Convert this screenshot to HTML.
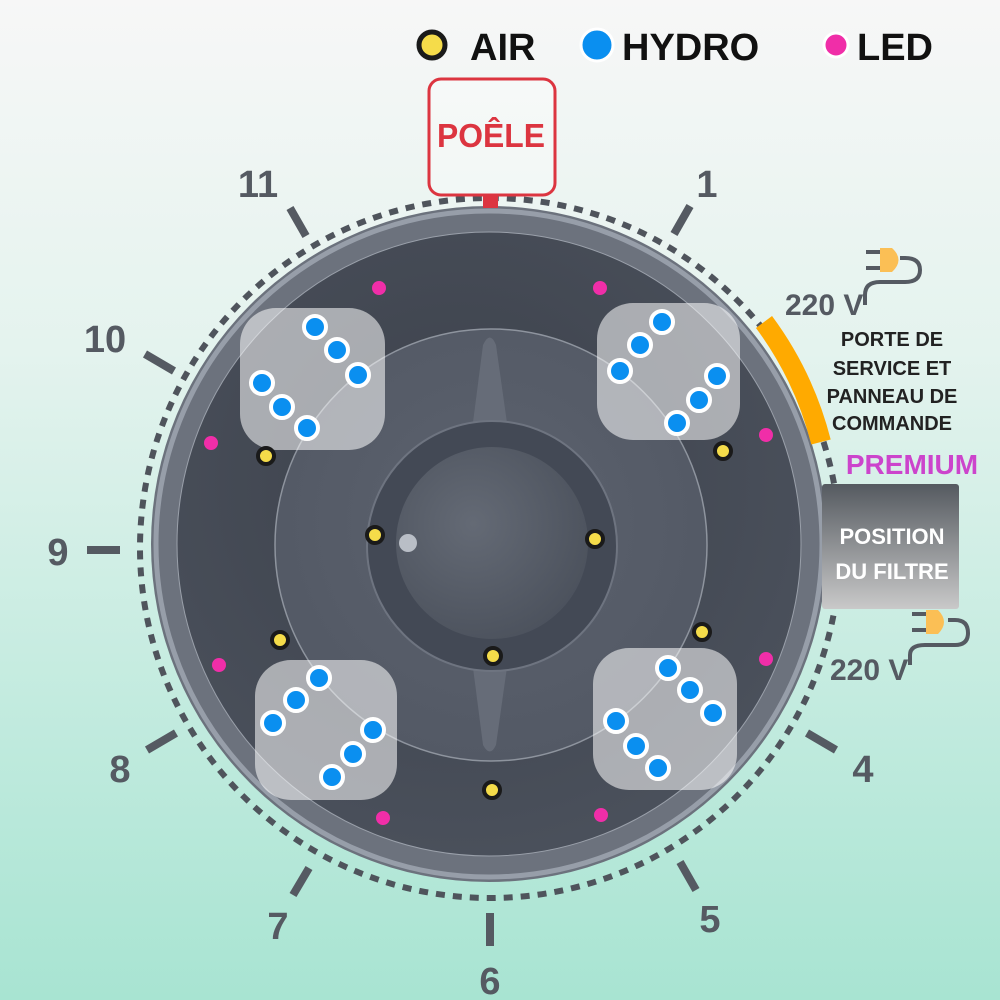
<!DOCTYPE html>
<html><head><meta charset="utf-8"><style>
html,body{margin:0;padding:0;width:1000px;height:1000px;overflow:hidden}
body{background:linear-gradient(#f7f7f7 0%,#e4f3ee 35%,#c3ebdf 70%,#a8e4d2 100%);font-family:"Liberation Sans",sans-serif}
svg{position:absolute;left:0;top:0}
</style></head><body>
<svg width="1000" height="1000" viewBox="0 0 1000 1000">
<defs>
<radialGradient id="well" cx="0.45" cy="0.4" r="0.6">
<stop offset="0" stop-color="#3c414b"/><stop offset="1" stop-color="#4a505b"/>
</radialGradient>
<radialGradient id="plat" cx="0.5" cy="0.45" r="0.55">
<stop offset="0" stop-color="#5c626e"/><stop offset="1" stop-color="#535965"/>
</radialGradient>
<radialGradient id="dome" cx="0.4" cy="0.4" r="0.7">
<stop offset="0" stop-color="#646a75"/><stop offset="1" stop-color="#4a505b"/>
</radialGradient>
<linearGradient id="filt" x1="0" y1="0" x2="0" y2="1">
<stop offset="0" stop-color="#555a60"/><stop offset="1" stop-color="#c9c9c9"/>
</linearGradient>
</defs>
<circle cx="490" cy="548" r="350" fill="none" stroke="#4f545c" stroke-width="6" stroke-dasharray="9 8"/>
<circle cx="489" cy="544" r="338" fill="#6c727d"/>
<circle cx="489" cy="544" r="333" fill="none" stroke="#a9b0bc" stroke-width="5" opacity="0.7"/>
<circle cx="489" cy="544" r="312" fill="url(#well)"/>
<circle cx="489" cy="544" r="312" fill="none" stroke="#9aa0aa" stroke-width="1"/>
<circle cx="491" cy="545" r="216" fill="url(#plat)" stroke="#8e949e" stroke-width="1.5"/>
<path d="M483 345 Q490 330 496 345 L508 430 L472 430 Z" fill="#666c78"/>
<path d="M472 660 L508 660 L496 745 Q490 758 483 745 Z" fill="#666c78"/>
<circle cx="492" cy="546" r="125" fill="#434955"/>
<circle cx="492" cy="546" r="125" fill="none" stroke="#6e7480" stroke-width="2"/>
<circle cx="492" cy="543" r="96" fill="url(#dome)"/>
<circle cx="408" cy="543" r="9" fill="#b9bec6"/>
<path d="M764 322 A345 345 0 0 1 821 442" fill="none" stroke="#ffaa00" stroke-width="20"/>
<g fill="#ffffff" fill-opacity="0.55">
<rect x="240" y="308" width="145" height="142" rx="36"/>
<rect x="597" y="303" width="143" height="137" rx="36"/>
<rect x="255" y="660" width="142" height="140" rx="36"/>
<rect x="593" y="648" width="144" height="142" rx="36"/>
</g>
<g fill="#0a8ff0" stroke="#fff" stroke-width="4">
<circle cx="315" cy="327" r="11"/><circle cx="337" cy="350" r="11"/><circle cx="358" cy="375" r="11"/><circle cx="262" cy="383" r="11"/><circle cx="282" cy="407" r="11"/><circle cx="307" cy="428" r="11"/>
<circle cx="662" cy="322" r="11"/><circle cx="640" cy="345" r="11"/><circle cx="620" cy="371" r="11"/><circle cx="717" cy="376" r="11"/><circle cx="699" cy="400" r="11"/><circle cx="677" cy="423" r="11"/>
<circle cx="319" cy="678" r="11"/><circle cx="296" cy="700" r="11"/><circle cx="273" cy="723" r="11"/><circle cx="373" cy="730" r="11"/><circle cx="353" cy="754" r="11"/><circle cx="332" cy="777" r="11"/>
<circle cx="668" cy="668" r="11"/><circle cx="690" cy="690" r="11"/><circle cx="713" cy="713" r="11"/><circle cx="616" cy="721" r="11"/><circle cx="636" cy="746" r="11"/><circle cx="658" cy="768" r="11"/>
</g>
<g fill="#f5dc4a" stroke="#1a1a1a" stroke-width="4">
<circle cx="266" cy="456" r="8"/><circle cx="723" cy="451" r="8"/><circle cx="375" cy="535" r="8"/><circle cx="595" cy="539" r="8"/><circle cx="280" cy="640" r="8"/><circle cx="702" cy="632" r="8"/><circle cx="493" cy="656" r="8"/><circle cx="492" cy="790" r="8"/>
</g>
<g fill="#f02ea8">
<circle cx="379" cy="288" r="7"/><circle cx="600" cy="288" r="7"/><circle cx="211" cy="443" r="7"/><circle cx="766" cy="435" r="7"/><circle cx="219" cy="665" r="7"/><circle cx="766" cy="659" r="7"/><circle cx="383" cy="818" r="7"/><circle cx="601" cy="815" r="7"/>
</g>
<g stroke="#555a62" stroke-width="8">
<line x1="290" y1="208" x2="306" y2="236"/>
<line x1="690" y1="206" x2="674" y2="234"/>
<line x1="145" y1="354" x2="174" y2="371"/>
<line x1="87" y1="550" x2="120" y2="550"/>
<line x1="147" y1="750" x2="176" y2="733"/>
<line x1="293" y1="895" x2="309" y2="868"/>
<line x1="490" y1="913" x2="490" y2="946"/>
<line x1="680" y1="862" x2="696" y2="890"/>
<line x1="807" y1="733" x2="836" y2="750"/>
</g>
<g fill="#555a62" font-weight="bold" font-size="38" text-anchor="middle">
<text x="258" y="197">11</text><text x="707" y="197">1</text><text x="105" y="352">10</text>
<text x="58" y="565">9</text><text x="120" y="782">8</text><text x="278" y="939">7</text>
<text x="490" y="994">6</text><text x="710" y="932">5</text><text x="863" y="782">4</text>
</g>
<rect x="429" y="79" width="126" height="116" rx="12" fill="#fff" fill-opacity="0.3" stroke="#dc3540" stroke-width="3"/>
<rect x="483" y="194" width="15" height="14" fill="#dc3540"/>
<text x="491" y="147" fill="#dc3540" font-weight="bold" font-size="33" text-anchor="middle" textLength="108" lengthAdjust="spacingAndGlyphs">POÊLE</text>
<circle cx="432" cy="45" r="13" fill="#f5dc4a" stroke="#1a1a1a" stroke-width="5"/>
<text x="470" y="60" font-weight="bold" font-size="38" fill="#111">AIR</text>
<circle cx="597" cy="45" r="16" fill="#0a8ff0" stroke="#fff" stroke-width="3"/>
<text x="622" y="60" font-weight="bold" font-size="38" fill="#111">HYDRO</text>
<circle cx="836" cy="45" r="12" fill="#f02ea8" stroke="#fff" stroke-width="3"/>
<text x="857" y="60" font-weight="bold" font-size="38" fill="#111">LED</text>
<g fill="none" stroke="#555a62" stroke-width="4">
<path d="M865 305 L865 295 Q865 282 880 282 L905 282 Q920 282 920 270 Q920 258 905 258 L900 258"/>
<path d="M866 252 L880 252 M866 268 L880 268"/>
<path d="M910 665 L910 655 Q910 645 925 645 L955 645 Q968 645 968 633 Q968 620 955 620 L948 620"/>
<path d="M912 614 L926 614 M912 630 L926 630"/>
</g>
<path d="M880 248 L892 248 Q905 260 892 272 L880 272 Z" fill="#fbbf55"/>
<path d="M926 610 L938 610 Q950 622 938 634 L926 634 Z" fill="#fbbf55"/>
<g fill="#555a62" font-weight="bold" font-size="30">
<text x="785" y="315">220 V</text><text x="830" y="680">220 V</text>
</g>
<g fill="#222" font-weight="bold" font-size="20" text-anchor="middle">
<text x="892" y="346">PORTE DE</text><text x="892" y="375">SERVICE ET</text>
<text x="892" y="403">PANNEAU DE</text><text x="892" y="430">COMMANDE</text>
</g>
<text x="912" y="474" fill="#cc44cc" font-weight="bold" font-size="28" text-anchor="middle">PREMIUM</text>
<rect x="822" y="484" width="137" height="125" rx="3" fill="url(#filt)"/>
<g fill="#fff" font-weight="bold" font-size="22" text-anchor="middle">
<text x="892" y="544">POSITION</text><text x="892" y="579">DU FILTRE</text>
</g>
</svg>
</body></html>
